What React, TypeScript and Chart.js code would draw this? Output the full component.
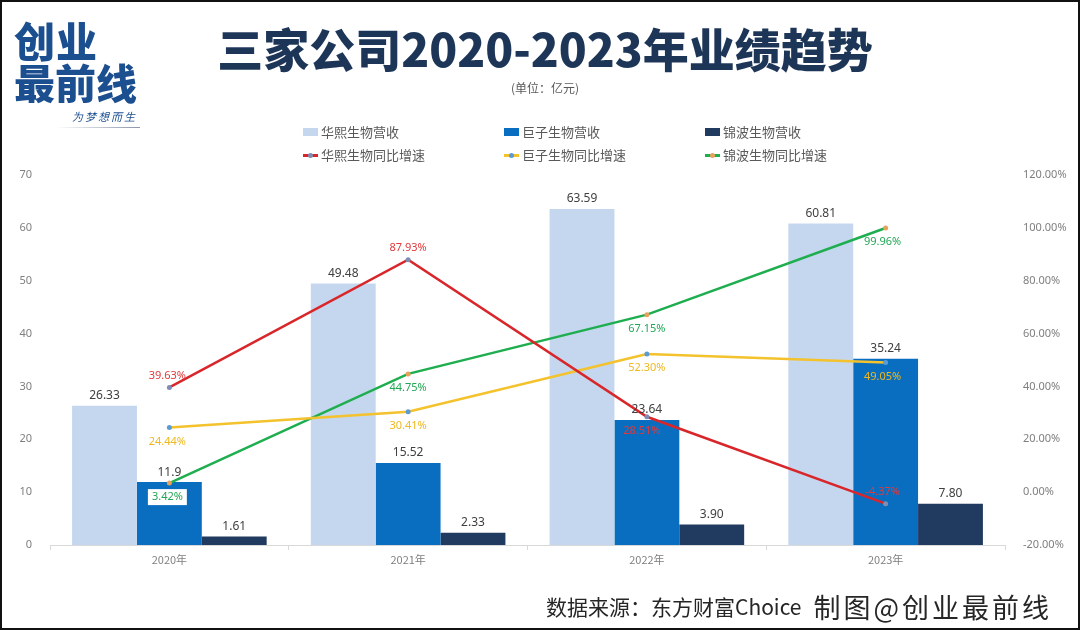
import { useEffect, useRef } from "react";
import { Chart, Plugin, registerables } from "chart.js";

Chart.register(...registerables);

// data
const years = ["2020年", "2021年", "2022年", "2023年"];
// kept as text so the labels show exactly as printed (11.9, 3.90 ...)
const huaxiRevenue = ["26.33", "49.48", "63.59", "60.81"];
const juziRevenue = ["11.9", "15.52", "23.64", "35.24"];
const jinboRevenue = ["1.61", "2.33", "3.90", "7.80"];
const huaxiGrowth = [39.63, 87.93, 28.51, -4.37];
const juziGrowth = [24.44, 30.41, 52.3, 49.05];
const jinboGrowth = [3.42, 44.75, 67.15, 99.96];

const barNames = ["华熙生物营收", "巨子生物营收", "锦波生物营收"];
const lineNames = ["华熙生物同比增速", "巨子生物同比增速", "锦波生物同比增速"];
const barColors = ["#c5d7ee", "#0a6ec0", "#213a5f"];
const lineColors = ["#d8262a", "#f3c22c", "#1eae4f"];
const dotColors = ["#7d8db3", "#5b9bd5", "#e6a35c"];
const labelColors = ["#e0393c", "#efb81d", "#22a755"];

const FONT = '"Noto Sans", "Noto Sans CJK SC", sans-serif';
const CJK = '"Noto Sans CJK SC", "Noto Sans", sans-serif';

const valueLabels: Plugin<"bar"> = {
  id: "valueLabels",
  afterDatasetsDraw(chart) {
    const ctx = chart.ctx;
    ctx.save();
    ctx.textAlign = "center";
    chart.data.datasets.forEach((ds: any, i) => {
      const meta = chart.getDatasetMeta(i);
      meta.data.forEach((el: any, j) => {
        if (ds.type !== "line") {
          ctx.font = `12px ${FONT}`;
          ctx.fillStyle = "#404040";
          ctx.textBaseline = "bottom";
          ctx.fillText(ds.labelText[j], el.x, el.y - 4);
        } else {
          const text = Number(ds.data[j]).toFixed(2) + "%";
          const above = ds.labelPos[j] === "above";
          const y = above ? el.y - 12 : el.y + 14;
          const x = el.x + (ds.labelDx ? ds.labelDx[j] : 0);
          ctx.font = `11px ${FONT}`;
          ctx.textBaseline = "middle";
          if (ds.labelBox && ds.labelBox[j]) {
            const w = ctx.measureText(text).width + 8;
            ctx.fillStyle = "#ffffff";
            ctx.fillRect(x - w / 2, y - 8, w, 16);
          }
          ctx.fillStyle = ds.labelColor;
          ctx.fillText(text, x, y);
        }
      });
    });
    ctx.restore();
  },
};

function TrendChart() {
  const canvasRef = useRef<HTMLCanvasElement>(null);

  useEffect(() => {
    if (!canvasRef.current) return;
    const ctx = canvasRef.current.getContext("2d");
    if (!ctx) return;

    const revenues = [huaxiRevenue, juziRevenue, jinboRevenue];
    const growths = [huaxiGrowth, juziGrowth, jinboGrowth];
    const positions = [
      ["above", "above", "below", "above"],
      ["below", "below", "below", "below"],
      ["below", "below", "below", "below"],
    ];

    const bars = revenues.map((r, i) => ({
      type: "bar",
      label: barNames[i],
      data: r.map(Number),
      labelText: r,
      backgroundColor: barColors[i],
      borderWidth: 0,
      yAxisID: "y",
      categoryPercentage: 0.815,
      barPercentage: 1,
      order: 2,
    }));

    const lines = growths.map((g, i) => ({
      type: "line",
      label: lineNames[i],
      data: g,
      borderColor: lineColors[i],
      borderWidth: 2.5,
      pointRadius: 2.5,
      pointBorderWidth: 0,
      pointBackgroundColor: dotColors[i],
      tension: 0,
      yAxisID: "y1",
      labelPos: positions[i],
      labelDx: i === 0 ? [-2, 0, -5, -3] : [-2, 0, 0, -3],
      labelBox: i === 2 ? [true, false, false, false] : null,
      labelColor: labelColors[i],
      order: 1,
    }));

    const chart = new Chart(ctx, {
      type: "bar",
      data: { labels: years, datasets: [...bars, ...lines] as any },
      options: {
        responsive: false,
        animation: false,
        layout: { padding: { top: 175, bottom: 50, left: 0, right: 0 } },
        plugins: { legend: { display: false }, tooltip: { enabled: false } },
        scales: {
          x: {
            offset: true,
            grid: {
              display: true,
              drawOnChartArea: false,
              drawTicks: true,
              tickLength: 5,
              color: "#d9d9d9",
              offset: true,
            },
            border: { display: true, color: "#d9d9d9" },
            ticks: { color: "#7f7f7f", font: { size: 11, family: CJK }, padding: 3 },
            afterFit: (s: any) => {
              s.height = 35;
            },
          },
          y: {
            position: "left",
            min: 0,
            max: 70,
            grid: { display: false },
            border: { display: false },
            ticks: { stepSize: 10, color: "#7f7f7f", font: { size: 11, family: FONT }, padding: 10 },
            afterFit: (s: any) => {
              s.width = 50;
            },
          },
          y1: {
            position: "right",
            min: -20,
            max: 120,
            grid: { display: false },
            border: { display: false },
            ticks: {
              stepSize: 20,
              color: "#7f7f7f",
              font: { size: 11, family: FONT },
              padding: 10,
              callback: (v: any) => Number(v).toFixed(2) + "%",
            },
            afterFit: (s: any) => {
              s.width = 75;
            },
          },
        },
      },
      plugins: [valueLabels as any],
    });

    return () => {
      chart.destroy();
    };
  }, []);

  return (
    <canvas
      ref={canvasRef}
      width={1080}
      height={630}
      style={{ position: "absolute", left: 0, top: 0, width: 1080, height: 630 }}
    />
  );
}

function Legend() {
  const cols = [303, 504, 705];
  const text = { fontSize: 13, color: "#595959", fontFamily: CJK, lineHeight: "16px" };
  return (
    <>
      {barNames.map((n, i) => (
        <div key={n} style={{ position: "absolute", left: cols[i], top: 124, display: "flex", alignItems: "center" }}>
          <span style={{ width: 15, height: 8, background: barColors[i], marginRight: 3 }} />
          <span style={text}>{n}</span>
        </div>
      ))}
      {lineNames.map((n, i) => (
        <div key={n} style={{ position: "absolute", left: cols[i], top: 147, display: "flex", alignItems: "center" }}>
          <span style={{ position: "relative", width: 15, height: 3, background: lineColors[i], marginRight: 3 }}>
            <span
              style={{
                position: "absolute",
                left: 5,
                top: -1,
                width: 5,
                height: 5,
                borderRadius: 3,
                background: dotColors[i],
              }}
            />
          </span>
          <span style={text}>{n}</span>
        </div>
      ))}
    </>
  );
}

export default function App() {
  const logoBlue = "#1b4f90";
  return (
    <div
      style={{
        position: "absolute",
        left: 0,
        top: 0,
        width: 1080,
        height: 630,
        background: "#ffffff",
        overflow: "hidden",
        fontFamily: CJK,
      }}
    >
      <TrendChart />

      {/* logo */}
      <div style={{ position: "absolute", left: 14, top: 18, color: logoBlue, fontWeight: 900, fontSize: 41, lineHeight: "42px" }}>
        <div style={{ letterSpacing: 1 }}>创业</div>
        <div>最前线</div>
      </div>
      <div
        style={{
          position: "absolute",
          left: 72,
          top: 108,
          color: logoBlue,
          fontSize: 11,
          fontStyle: "italic",
          letterSpacing: 2,
        }}
      >
        为梦想而生
      </div>
      <div
        style={{
          position: "absolute",
          left: 56,
          top: 127,
          width: 84,
          height: 1,
          background: "linear-gradient(90deg, rgba(120,130,150,0), #8c95a8)",
        }}
      />

      {/* title */}
      <div
        style={{
          position: "absolute",
          left: 0,
          top: 22,
          width: 1090,
          textAlign: "center",
          fontSize: 46,
          lineHeight: "50px",
          fontWeight: 900,
          color: "#1d3658",
        }}
      >
        三家公司2020-2023年业绩趋势
      </div>
      <div
        style={{
          position: "absolute",
          left: 0,
          top: 80,
          width: 1090,
          textAlign: "center",
          fontSize: 12,
          lineHeight: "16px",
          color: "#595959",
        }}
      >
        (单位：亿元)
      </div>

      <Legend />

      {/* source */}
      <div
        style={{
          position: "absolute",
          left: 546,
          top: 590,
          height: 32,
          display: "flex",
          alignItems: "center",
          color: "#262626",
          whiteSpace: "nowrap",
        }}
      >
        <span style={{ fontSize: 21 }}>数据来源：东方财富Choice</span>
        <span style={{ fontSize: 27, marginLeft: 12, letterSpacing: 3 }}>制图@创业最前线</span>
      </div>

      <div
        style={{
          position: "absolute",
          left: 0,
          top: 0,
          width: 1080,
          height: 630,
          boxSizing: "border-box",
          border: "2px solid #111",
          pointerEvents: "none",
        }}
      />
    </div>
  );
}
